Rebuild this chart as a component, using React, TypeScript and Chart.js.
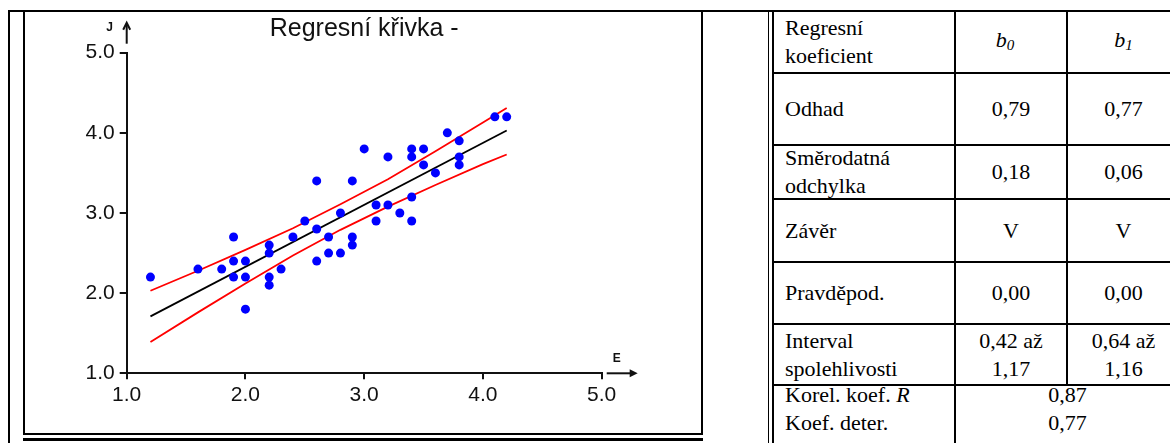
import React, { useEffect, useRef } from "react";
import { Chart, registerables } from "chart.js";

Chart.register(...registerables);

// ---------- chart data ----------
const chartTitle = "Regresní křivka -";
const xAxisName = "E";
const yAxisName = "J";
const xTickValues = [1, 2, 3, 4, 5];
const yTickValues = [1, 2, 3, 4, 5];

const pointsX = [
  1.2, 1.6, 1.8, 1.9, 1.9, 1.9, 2.0, 2.0, 2.0, 2.2, 2.2, 2.2, 2.2, 2.3, 2.4,
  2.5, 2.6, 2.6, 2.6, 2.7, 2.7, 2.8, 2.8, 2.9, 2.9, 2.9, 3.0, 3.1, 3.1, 3.2,
  3.2, 3.3, 3.4, 3.4, 3.4, 3.4, 3.5, 3.5, 3.6, 3.7, 3.8, 3.8, 3.8, 4.1, 4.2,
];
const pointsY = [
  2.2, 2.3, 2.3, 2.7, 2.4, 2.2, 2.4, 2.2, 1.8, 2.6, 2.5, 2.2, 2.1, 2.3, 2.7,
  2.9, 2.4, 2.8, 3.4, 2.7, 2.5, 2.5, 3.0, 2.7, 2.6, 3.4, 3.8, 3.1, 2.9, 3.7,
  3.1, 3.0, 3.8, 3.7, 3.2, 2.9, 3.8, 3.6, 3.5, 4.0, 3.9, 3.7, 3.6, 4.2, 4.2,
];

const fitX = [1.2, 4.2];
const fitY = [1.71, 4.03];

const bandX = [1.2, 1.6, 2.0, 2.4, 2.8, 3.2, 3.6, 4.0, 4.2];
const bandUpper = [2.03, 2.28, 2.54, 2.81, 3.11, 3.42, 3.77, 4.13, 4.31];
const bandLower = [1.39, 1.76, 2.12, 2.47, 2.79, 3.08, 3.35, 3.61, 3.73];

// ---------- table data ----------
const rowLabels: string[][] = [
  ["Regresní", "koeficient"],
  ["Odhad"],
  ["Směrodatná", "odchylka"],
  ["Závěr"],
  ["Pravděpod."],
  ["Interval", "spolehlivosti"],
];
const b0Cells: string[][] = [["0,79"], ["0,18"], ["V"], ["0,00"], ["0,42 až", "1,17"]];
const b1Cells: string[][] = [["0,77"], ["0,06"], ["V"], ["0,00"], ["0,64 až", "1,16"]];
const summaryLabels = ["Korel. koef. ", "Koef. deter."];
const summaryValues = ["0,87", "0,77"];

const rowBounds = [11, 73, 145, 199, 262, 324, 385, 480];
const colBounds = [773, 955, 1067, 1180];

const sansFont = '"Liberation Sans", Arial, sans-serif';
const serifFont = '"Liberation Serif", "Times New Roman", serif';

const axisDecor = {
  id: "axisDecor",
  afterDraw(chart: any) {
    const { ctx, chartArea } = chart;
    const { left, right, top, bottom } = chartArea;
    ctx.save();
    ctx.strokeStyle = "#111";
    ctx.fillStyle = "#111";
    ctx.lineWidth = 2;
    // y arrow
    ctx.beginPath();
    ctx.moveTo(left, top - 9);
    ctx.lineTo(left, top - 29);
    ctx.stroke();
    ctx.beginPath();
    ctx.moveTo(left - 3.5, top - 23);
    ctx.lineTo(left, top - 30);
    ctx.lineTo(left + 3.5, top - 23);
    ctx.stroke();
    // x arrow
    ctx.beginPath();
    ctx.moveTo(right + 5, bottom);
    ctx.lineTo(right + 31, bottom);
    ctx.stroke();
    ctx.beginPath();
    ctx.moveTo(right + 36, bottom);
    ctx.lineTo(right + 28, bottom - 4);
    ctx.lineTo(right + 28, bottom + 4);
    ctx.closePath();
    ctx.fill();
    // axis names
    ctx.font = "bold 12px " + sansFont;
    ctx.textAlign = "center";
    ctx.textBaseline = "middle";
    ctx.fillText(yAxisName, left - 17, top - 25);
    ctx.fillText(xAxisName, right + 15, bottom - 15);
    ctx.restore();
  },
};

function ChartPanel() {
  const ref = useRef<HTMLCanvasElement>(null);
  useEffect(() => {
    const pts = pointsX.map((x, i) => ({ x, y: pointsY[i] }));
    const fit = fitX.map((x, i) => ({ x, y: fitY[i] }));
    const up = bandX.map((x, i) => ({ x, y: bandUpper[i] }));
    const lo = bandX.map((x, i) => ({ x, y: bandLower[i] }));
    const tickFont = { family: sansFont, size: 21 };
    const chart = new Chart(ref.current as HTMLCanvasElement, {
      type: "scatter",
      data: {
        datasets: [
          {
            data: pts,
            backgroundColor: "#0000ff",
            borderColor: "#0000ff",
            pointRadius: 4.5,
            pointBorderWidth: 0,
            showLine: false,
          },
          {
            data: fit,
            showLine: true,
            borderColor: "#000000",
            borderWidth: 1.8,
            pointRadius: 0,
          },
          {
            data: up,
            showLine: true,
            borderColor: "#ff0000",
            borderWidth: 1.8,
            pointRadius: 0,
          },
          {
            data: lo,
            showLine: true,
            borderColor: "#ff0000",
            borderWidth: 1.8,
            pointRadius: 0,
          },
        ],
      } as any,
      options: {
        animation: false,
        responsive: false,
        maintainAspectRatio: false,
        layout: { padding: { left: 0, right: 99.3, top: 0, bottom: 0 } },
        plugins: {
          legend: { display: false },
          tooltip: { enabled: false },
          title: {
            display: true,
            fullSize: false,
            text: chartTitle,
            color: "#111",
            font: { family: sansFont, size: 25, weight: "normal" },
            padding: { top: 2, bottom: 8.7 },
          },
        },
        scales: {
          x: {
            type: "linear",
            min: 1,
            max: 5,
            afterBuildTicks: (s: any) => {
              s.ticks = xTickValues.map((v) => ({ value: v }));
            },
            afterFit: (s: any) => {
              s.height = 59.7;
            },
            ticks: {
              color: "#111",
              font: tickFont,
              padding: 3,
              maxRotation: 0,
              autoSkip: false,
              callback: (v: any) => Number(v).toFixed(1),
            },
            grid: {
              display: true,
              drawOnChartArea: false,
              drawTicks: true,
              tickLength: 6,
              color: "#111",
              lineWidth: 2,
            },
            border: { display: true, color: "#111", width: 2 },
          },
          y: {
            type: "linear",
            min: 1,
            max: 5,
            afterBuildTicks: (s: any) => {
              s.ticks = yTickValues.map((v) => ({ value: v }));
            },
            afterFit: (s: any) => {
              s.width = 101.7;
            },
            ticks: {
              color: "#111",
              font: tickFont,
              padding: 5,
              autoSkip: false,
              callback: (v: any) => Number(v).toFixed(1),
            },
            grid: {
              display: true,
              drawOnChartArea: false,
              drawTicks: true,
              tickLength: 7,
              color: "#111",
              lineWidth: 2,
            },
            border: { display: true, color: "#111", width: 2 },
          },
        },
      } as any,
      plugins: [axisDecor],
    });
    return () => chart.destroy();
  }, []);
  return (
    <canvas
      ref={ref}
      width={676}
      height={421}
      style={{ position: "absolute", left: 25, top: 12, width: 676, height: 421, display: "block" }}
    />
  );
}

const lineH = 28;

function Cell(props: {
  x0: number;
  x1: number;
  y0: number;
  y1: number;
  align: "left" | "center";
  children: React.ReactNode;
  topAlign?: boolean;
}) {
  const { x0, x1, y0, y1, align, children, topAlign } = props;
  return (
    <div
      style={{
        position: "absolute",
        left: x0,
        top: topAlign ? y0 - 4 : y0,
        width: x1 - x0,
        height: y1 - y0,
        display: "flex",
        flexDirection: "column",
        justifyContent: topAlign ? "flex-start" : "center",
        alignItems: align === "left" ? "flex-start" : "center",
        paddingLeft: align === "left" ? 12 : 0,
        boxSizing: "border-box",
        fontFamily: serifFont,
        fontSize: 22,
        lineHeight: lineH + "px",
        color: "#000",
        whiteSpace: "nowrap",
      }}
    >
      {children}
    </div>
  );
}

export default function App() {
  const hLines = rowBounds.slice(0, rowBounds.length - 1);
  return (
    <div
      style={{
        position: "absolute",
        left: 0,
        top: 0,
        width: 1170,
        height: 443,
        overflow: "hidden",
        background: "#fff",
      }}
    >
      {/* outer frame */}
      <div style={{ position: "absolute", left: 8, top: 10, width: 2, height: 433, background: "#000" }} />
      <div style={{ position: "absolute", left: 8, top: 10, width: 1162, height: 2, background: "#000" }} />
      {/* chart image frame */}
      <div style={{ position: "absolute", left: 23, top: 10, width: 2, height: 425, background: "#000" }} />
      <div style={{ position: "absolute", left: 701, top: 10, width: 2, height: 425, background: "#000" }} />
      <div style={{ position: "absolute", left: 23, top: 433, width: 680, height: 2, background: "#000" }} />
      <div style={{ position: "absolute", left: 23, top: 438, width: 680, height: 3, background: "#000" }} />
      <div style={{ position: "absolute", left: 768, top: 10, width: 1, height: 433, background: "#000" }} />

      <ChartPanel />

      {/* table lines */}
      {hLines.map((y, i) => (
        <div
          key={"h" + i}
          style={{ position: "absolute", left: colBounds[0], top: y - 1, width: colBounds[3] - colBounds[0], height: 2, background: "#000" }}
        />
      ))}
      {colBounds.map((x, i) => (
        <div
          key={"v" + i}
          style={{
            position: "absolute",
            left: x - 1,
            top: rowBounds[0] - 1,
            width: 2,
            height: (i === 2 ? rowBounds[6] : 443) - rowBounds[0] + 1,
            background: "#000",
          }}
        />
      ))}

      {/* header row */}
      <Cell x0={colBounds[0]} x1={colBounds[1]} y0={rowBounds[0]} y1={rowBounds[1]} align="left">
        {rowLabels[0].map((t) => (
          <div key={t}>{t}</div>
        ))}
      </Cell>
      <Cell x0={colBounds[1]} x1={colBounds[2]} y0={rowBounds[0]} y1={rowBounds[1]} align="center">
        <div style={{ fontStyle: "italic", marginRight: 12 }}>
          b<sub style={{ fontSize: 15, verticalAlign: -3 }}>0</sub>
        </div>
      </Cell>
      <Cell x0={colBounds[2]} x1={colBounds[3]} y0={rowBounds[0]} y1={rowBounds[1]} align="center">
        <div style={{ fontStyle: "italic" }}>
          b<sub style={{ fontSize: 15, verticalAlign: -3 }}>1</sub>
        </div>
      </Cell>

      {rowLabels.slice(1).map((lines, i) => {
        const r = i + 1;
        return (
          <React.Fragment key={"r" + r}>
            <Cell x0={colBounds[0]} x1={colBounds[1]} y0={rowBounds[r]} y1={rowBounds[r + 1]} align="left">
              {lines.map((t) => (
                <div key={t}>{t}</div>
              ))}
            </Cell>
            <Cell x0={colBounds[1]} x1={colBounds[2]} y0={rowBounds[r]} y1={rowBounds[r + 1]} align="center">
              {b0Cells[i].map((t) => (
                <div key={t}>{t}</div>
              ))}
            </Cell>
            <Cell x0={colBounds[2]} x1={colBounds[3]} y0={rowBounds[r]} y1={rowBounds[r + 1]} align="center">
              {b1Cells[i].map((t) => (
                <div key={t}>{t}</div>
              ))}
            </Cell>
          </React.Fragment>
        );
      })}

      {/* summary row */}
      <Cell x0={colBounds[0]} x1={colBounds[1]} y0={rowBounds[6]} y1={rowBounds[7]} align="left" topAlign>
        <div>
          {summaryLabels[0]}
          <i>R</i>
        </div>
        <div>{summaryLabels[1]}</div>
      </Cell>
      <Cell x0={colBounds[1]} x1={colBounds[3]} y0={rowBounds[6]} y1={rowBounds[7]} align="center" topAlign>
        {summaryValues.map((t, i) => (
          <div key={i}>{t}</div>
        ))}
      </Cell>
    </div>
  );
}
